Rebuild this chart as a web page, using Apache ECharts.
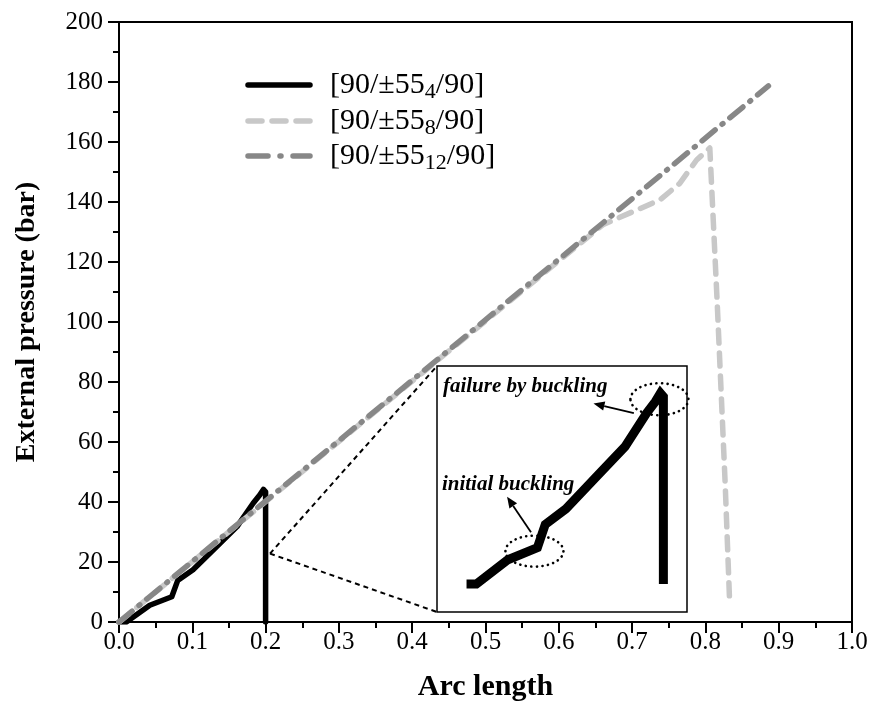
<!DOCTYPE html>
<html>
<head>
<meta charset="utf-8">
<script src="https://cdn.jsdelivr.net/npm/echarts@6/dist/echarts.min.js"></script>
<style>
  html, body { margin: 0; padding: 0; background: #fff; }
  #chart { width: 872px; height: 710px; }
</style>
</head>
<body>
<div id="chart"></div>
<script>
// Arc length vs. external pressure for three laminate lay-ups
const xTickValues = [0, 0.1, 0.2, 0.3, 0.4, 0.5, 0.6, 0.7, 0.8, 0.9, 1.0];
const yTickValues = [0, 20, 40, 60, 80, 100, 120, 140, 160, 180, 200];

const seriesNames = ['[90/±55_4/90]', '[90/±55_8/90]', '[90/±55_12/90]'];
const legendLabels = [
  '{b|[90/±55}{sub|4}{b|/90]}',
  '{b|[90/±55}{sub|8}{b|/90]}',
  '{b|[90/±55}{sub|12}{b|/90]}'
];

// [90/±55_4/90]
const arc4 = [0, 0.010, 0.042, 0.072, 0.080, 0.101, 0.133, 0.161, 0.183, 0.192, 0.197, 0.200, 0.200];
const pres4 = [0, 0, 5.6, 8.4, 13.8, 17.4, 25.1, 31.8, 39.6, 42.3, 44.2, 43.4, 0];

// [90/±55_8/90]
const arc8 = [0, 0.200, 0.430, 0.660, 0.706, 0.738, 0.765, 0.788, 0.806, 0.816, 0.827, 0.833];
const pres8 = [0, 40.1, 86.3, 132.4, 137.3, 140.7, 146.2, 154.0, 158.0, 107.0, 46.0, 7.0];

// [90/±55_12/90]
const arc12 = [0, 0.200, 0.431, 0.660, 0.886];
const pres12 = [0, 40.3, 86.8, 133.0, 178.7];

const zip = (xs, ys) => xs.map((x, i) => [x, ys[i]]);

const serif = "Liberation Serif";
const black = '#000';

const chart = echarts.init(document.getElementById('chart'), null, { renderer: 'canvas' });

const lineStyles = [
  { color: black, width: 5.5, type: 'solid', cap: 'round', join: 'round' },
  { color: '#c8c8c8', width: 5.5, type: [13, 10], cap: 'round', join: 'round' },
  { color: '#878787', width: 5.5, type: [17, 9, 1, 9], cap: 'round', join: 'round' }
];
// dash patterns of the short legend samples
const legendDash = [null, [14, 10], [20, 12, 1, 12]];
const dataSets = [zip(arc4, pres4), zip(arc8, pres8), zip(arc12, pres12)];

const mainSeries = seriesNames.map((name, i) => ({
  name,
  type: 'line',
  xAxisIndex: 0,
  yAxisIndex: 0,
  data: dataSets[i],
  showSymbol: false,
  symbol: 'none',
  lineStyle: lineStyles[i],
  itemStyle: { color: lineStyles[i].color },
  z: 2 + i
}));

// Enlarged view of the [90/±55_4/90] curve
const insetSeries = {
  name: 'inset',
  type: 'line',
  xAxisIndex: 1,
  yAxisIndex: 1,
  data: zip(arc4, pres4),
  symbol: 'none',
  lineStyle: { color: black, width: 9, cap: 'butt', join: 'miter' },
  z: 10,
  silent: true
};

chart.setOption({
  animation: false,
  backgroundColor: '#fff',
  grid: [
    { left: 119, right: 20, top: 22, bottom: 88, show: true, borderColor: black, borderWidth: 2, backgroundColor: 'transparent' },
    { left: 437, top: 366, width: 250, height: 246, show: true, borderColor: black, borderWidth: 1.5, backgroundColor: '#fff', z: 5 }
  ],
  xAxis: [
    {
      gridIndex: 0,
      type: 'value',
      min: 0, max: 1, interval: 0.1,
      name: 'Arc length',
      nameLocation: 'middle',
      nameGap: 50,
      nameTextStyle: { fontFamily: serif, fontWeight: 'bold', fontSize: 30, color: black },
      axisLine: { show: true, lineStyle: { color: black, width: 2 } },
      axisTick: { show: true, length: 11, lineStyle: { color: black, width: 2 } },
      minorTick: { show: true, splitNumber: 2, length: 6, lineStyle: { color: black, width: 2 } },
      splitLine: { show: false },
      axisLabel: {
        fontFamily: serif, fontSize: 25, color: black, margin: 8,
        formatter: (v) => xTickValues.includes(Math.round(v * 10) / 10) ? v.toFixed(1) : ''
      }
    },
    { gridIndex: 1, type: 'value', min: -0.03, max: 0.224, show: false }
  ],
  yAxis: [
    {
      gridIndex: 0,
      type: 'value',
      min: 0, max: 200, interval: 20,
      name: 'External pressure (bar)',
      nameLocation: 'middle',
      nameGap: 78,
      nameTextStyle: { fontFamily: serif, fontWeight: 'bold', fontSize: 28, color: black },
      axisLine: { show: true, lineStyle: { color: black, width: 2 } },
      axisTick: { show: true, length: 11, lineStyle: { color: black, width: 2 } },
      minorTick: { show: true, splitNumber: 2, length: 6, lineStyle: { color: black, width: 2 } },
      splitLine: { show: false },
      axisLabel: {
        fontFamily: serif, fontSize: 25, color: black, margin: 16,
        formatter: (v) => yTickValues.includes(v) ? String(v) : ''
      }
    },
    { gridIndex: 1, type: 'value', min: -6.5, max: 50.5, show: false }
  ],
  series: [...mainSeries, insetSeries]
});

// Annotations: connector lines, dotted ellipses, arrows and labels of the inset
function toInset(p) { return chart.convertToPixel({ gridIndex: 1 }, p); }
function toMain(p) { return chart.convertToPixel({ gridIndex: 0 }, p); }

function arrow(from, to, head) {
  const dx = to[0] - from[0], dy = to[1] - from[1];
  const len = Math.hypot(dx, dy), ux = dx / len, uy = dy / len;
  const bx = to[0] - ux * head, by = to[1] - uy * head;
  const px = -uy * head * 0.42, py = ux * head * 0.42;
  return [
    { type: 'line', shape: { x1: from[0], y1: from[1], x2: bx, y2: by }, style: { stroke: black, lineWidth: 1.8 }, z: 20 },
    { type: 'polygon', shape: { points: [[to[0], to[1]], [bx + px, by + py], [bx - px, by - py]] }, style: { fill: black }, z: 20 }
  ];
}

const start = toMain([0.206, 22.8]);
const cornerTop = toInset([-0.03, 50.5]);
const cornerBottom = toInset([-0.03, -6.5]);
const kink = toInset([0.069, 7.6]);
const peak = toInset([0.196, 42.8]);

const dottedStyle = { stroke: black, fill: 'none', lineWidth: 2.6, lineDash: [0.1, 5.4], lineCap: 'round' };
const dashedStyle = { stroke: black, lineWidth: 2, lineDash: [5, 4] };
const annotFont = { fontFamily: serif, fontStyle: 'italic', fontWeight: 'bold', fontSize: 21, fill: black, verticalAlign: 'middle', align: 'left' };

const graphics = [
  { type: 'line', shape: { x1: start[0], y1: start[1], x2: cornerTop[0], y2: cornerTop[1] }, style: dashedStyle, z: 6 },
  { type: 'line', shape: { x1: start[0], y1: start[1], x2: cornerBottom[0], y2: cornerBottom[1] }, style: dashedStyle, z: 6 },
  { type: 'ellipse', shape: { cx: kink[0], cy: kink[1], rx: 29, ry: 15.5 }, style: dottedStyle, z: 20 },
  { type: 'ellipse', shape: { cx: peak[0], cy: peak[1], rx: 29, ry: 16 }, style: dottedStyle, z: 20 },
  ...arrow(toInset([0.170, 39.6]), toInset([0.129, 41.8]), 11),
  ...arrow(toInset([0.0655, 12.0]), toInset([0.0412, 20.2]), 11),
  {
    type: 'text', z: 20,
    x: toInset([-0.024, 45.8])[0], y: toInset([-0.024, 45.8])[1],
    style: Object.assign({ text: 'failure by buckling' }, annotFont)
  },
  {
    type: 'text', z: 20,
    x: toInset([-0.025, 23.1])[0], y: toInset([-0.025, 23.1])[1],
    style: Object.assign({ text: 'initial buckling' }, annotFont)
  }
];

// Legend: line sample plus label with subscript ply count
const legendRows = [85, 121, 156];
legendRows.forEach((y, i) => {
  graphics.push({
    type: 'line', z: 20,
    shape: { x1: 248, y1: y, x2: 310, y2: y },
    style: { stroke: lineStyles[i].color, lineWidth: 5.5, lineDash: legendDash[i], lineCap: 'round' }
  });
  graphics.push({
    type: 'text', z: 20,
    x: 330, y: y,
    style: {
      text: legendLabels[i],
      fontFamily: serif, fontSize: 30, fill: black,
      verticalAlign: 'middle', align: 'left',
      rich: {
        b: { fontFamily: serif, fontSize: 30, fill: black, lineHeight: 36, verticalAlign: 'middle' },
        sub: { fontFamily: serif, fontSize: 22, fill: black, lineHeight: 14, verticalAlign: 'bottom' }
      }
    }
  });
});

chart.setOption({ graphic: graphics });
</script>
</body>
</html>
